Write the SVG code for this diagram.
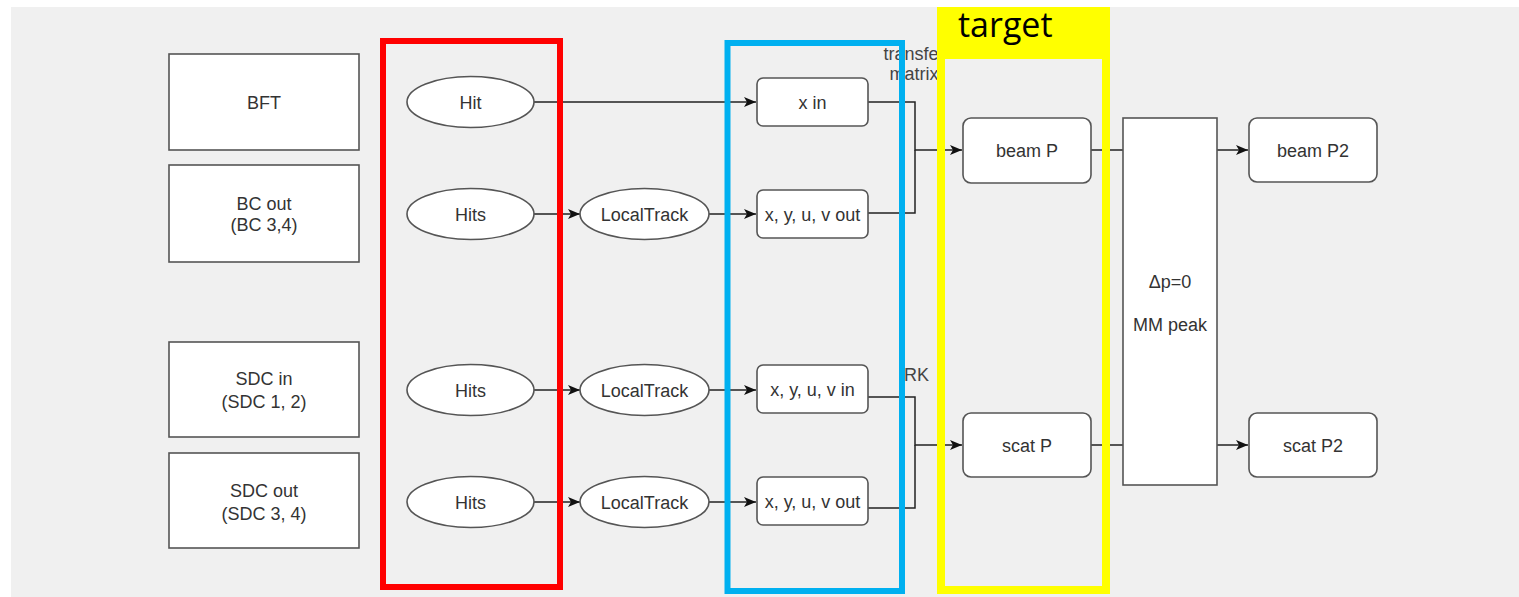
<svg xmlns="http://www.w3.org/2000/svg" width="1519" height="597" viewBox="0 0 1519 597">
<defs>
<style>
.box{fill:#fff;stroke:#555;stroke-width:1.6}
.t{font-family:"Liberation Sans",Arial,sans-serif;font-size:18px;fill:#333;text-anchor:middle}
.c{fill:none;stroke:#222;stroke-width:1.5}
.lbl{font-family:"Liberation Sans",Arial,sans-serif;font-size:18px;fill:#444}
</style>
<marker id="ah" viewBox="0 0 12 10" refX="12" refY="5" markerWidth="12" markerHeight="10" markerUnits="userSpaceOnUse" orient="auto">
<path d="M0,0 L12,5 L0,10 L3,5 Z" fill="#111"/>
</marker>
</defs>
<rect x="11" y="7" width="1508" height="590" fill="#f0f0f0"/>
<g id="labels">
<text class="lbl" x="914" y="60" text-anchor="middle">transfer</text>
<text class="lbl" x="914" y="80" text-anchor="middle">matrix</text>
<text class="lbl" x="904" y="381">RK</text>
</g>
<g id="connectors">
<path class="c" d="M534,102 H756" marker-end="url(#ah)"/>
<path class="c" d="M534,214 H580" marker-end="url(#ah)"/>
<path class="c" d="M709,214 H756" marker-end="url(#ah)"/>
<path class="c" d="M534,390 H580" marker-end="url(#ah)"/>
<path class="c" d="M709,390 H756" marker-end="url(#ah)"/>
<path class="c" d="M534,502 H580" marker-end="url(#ah)"/>
<path class="c" d="M709,502 H756" marker-end="url(#ah)"/>
<path class="c" d="M868,102 H915 V150 H962" marker-end="url(#ah)"/>
<path class="c" d="M868,213 H915 V150"/>
<path class="c" d="M868,397 H915 V445 H962" marker-end="url(#ah)"/>
<path class="c" d="M868,508 H915 V445"/>
<path class="c" d="M1091,150 H1123"/>
<path class="c" d="M1091,445 H1123"/>
<path class="c" d="M1217,150 H1248" marker-end="url(#ah)"/>
<path class="c" d="M1217,445 H1248" marker-end="url(#ah)"/>
</g>
<g id="bft"><rect class="box" x="169" y="54" width="190" height="96"/><text class="t" x="264" y="109">BFT</text></g>
<g id="bcout"><rect class="box" x="169" y="165" width="190" height="97"/><text class="t" x="264" y="210">BC out</text><text class="t" x="264" y="231">(BC 3,4)</text></g>
<g id="sdcin"><rect class="box" x="169" y="342" width="190" height="95"/><text class="t" x="264" y="385">SDC in</text><text class="t" x="264" y="408">(SDC 1, 2)</text></g>
<g id="sdcout"><rect class="box" x="169" y="453" width="190" height="95"/><text class="t" x="264" y="497">SDC out</text><text class="t" x="264" y="520">(SDC 3, 4)</text></g>
<g id="hit1"><ellipse class="box" cx="470.5" cy="102" rx="63.5" ry="25.5"/><text class="t" x="470.5" y="108.5">Hit</text></g>
<g id="hits2"><ellipse class="box" cx="470.5" cy="214" rx="63.5" ry="25.5"/><text class="t" x="470.5" y="220.5">Hits</text></g>
<g id="hits3"><ellipse class="box" cx="470.5" cy="390" rx="63.5" ry="25.5"/><text class="t" x="470.5" y="396.5">Hits</text></g>
<g id="hits4"><ellipse class="box" cx="470.5" cy="502" rx="63.5" ry="25.5"/><text class="t" x="470.5" y="508.5">Hits</text></g>
<g id="lt2"><ellipse class="box" cx="644.5" cy="214" rx="64.5" ry="25.5"/><text class="t" x="644.5" y="220.5">LocalTrack</text></g>
<g id="lt3"><ellipse class="box" cx="644.5" cy="390" rx="64.5" ry="25.5"/><text class="t" x="644.5" y="396.5">LocalTrack</text></g>
<g id="lt4"><ellipse class="box" cx="644.5" cy="502" rx="64.5" ry="25.5"/><text class="t" x="644.5" y="508.5">LocalTrack</text></g>
<g id="xin"><rect class="box" x="757" y="78" width="111" height="48" rx="6"/><text class="t" x="812.5" y="108.5">x in</text></g>
<g id="bcvout"><rect class="box" x="757" y="190" width="111" height="48" rx="6"/><text class="t" x="812.5" y="220.5">x, y, u, v out</text></g>
<g id="sdcvin"><rect class="box" x="757" y="365" width="111" height="48" rx="6"/><text class="t" x="812.5" y="395.5">x, y, u, v in</text></g>
<g id="sdcvout"><rect class="box" x="757" y="477" width="111" height="48" rx="6"/><text class="t" x="812.5" y="507.5">x, y, u, v out</text></g>
<g id="beamp"><rect class="box" x="963" y="118" width="128" height="65" rx="8"/><text class="t" x="1027" y="156.5">beam P</text></g>
<g id="scatp"><rect class="box" x="963" y="413" width="128" height="64" rx="8"/><text class="t" x="1027" y="451.5">scat P</text></g>
<g id="dp"><rect class="box" x="1123" y="118" width="94" height="367"/><text class="t" x="1170" y="288">Δp=0</text><text class="t" x="1170" y="331">MM peak</text></g>
<g id="beamp2"><rect class="box" x="1249" y="118" width="128" height="64" rx="8"/><text class="t" x="1313" y="156.5">beam P2</text></g>
<g id="scatp2"><rect class="box" x="1249" y="413" width="128" height="64" rx="8"/><text class="t" x="1313" y="451.5">scat P2</text></g>
<g id="frames">
<rect x="383" y="41" width="177" height="546" fill="none" stroke="#ff0000" stroke-width="6"/>
<rect x="727.5" y="43" width="174.5" height="548" fill="none" stroke="#00b0f0" stroke-width="6"/>
<path d="M937,7 H1110 V594 H937 Z M945,59 V586 H1102 V59 Z" fill="#ffff00" fill-rule="evenodd"/>
<text x="958" y="37" font-family="Open Sans, Liberation Sans, sans-serif" font-size="34" fill="#000">target</text>
</g>
</svg>
